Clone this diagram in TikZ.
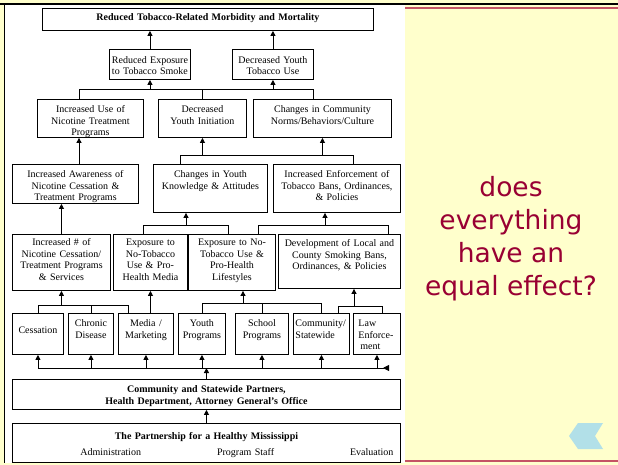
\documentclass[tikz,border=0pt]{standalone}
\usepackage{fontspec}
\setmainfont{Liberation Serif}
\newfontfamily\qsans{DejaVu Sans}
\usetikzlibrary{arrows.meta,positioning,calc}

\definecolor{slideyellow}{RGB}{255,255,204}
\definecolor{rulered}{RGB}{196,84,100}
\definecolor{qred}{RGB}{153,0,51}
\definecolor{chevblue}{RGB}{178,224,232}

\newcommand\cellfont{\fontsize{10}{11.5}\selectfont}

\begin{document}
\begin{tikzpicture}[x=1pt,y=-1pt,
      box/.style = {draw, line width=0.9pt, anchor=north west, inner sep=0pt,
                    align=center, font=\cellfont},
      head/.style = {box, font=\cellfont\bfseries},
      link/.style = {line width=0.9pt},
      up/.style = {link,->},
      >={Triangle[length=5pt,width=5pt]}
      ]
      \useasboundingbox (0,0) rectangle (618,465);
      % slide
      \fill[slideyellow] (0,0) rectangle (618,465);
      \fill[white] (4,4) rectangle (405,463);
      \draw[line width=1.5pt] (0,4) -- (618,4);
      \draw[line width=1.2pt] (4.5,4) -- (4.5,463);
      \draw[rulered, line width=2pt] (405,8.5) -- (618,8.5);
      \draw[rulered, line width=2pt] (405,460.5) -- (618,460.5);
      \fill[chevblue] (569,436) -- (578,423) -- (603,423) -- (595,436)
        -- (603,449) -- (578,449) -- cycle;

      % outcomes
      \node[head, text width=331pt, text height=12.5pt, text depth=9.5pt] (mort) at (42,8)
        {Reduced Tobacco-Related Morbidity and Mortality};
      \node[box, text width=81pt, text height=14pt, text depth=16pt] (expo) at (109,49)
        {Reduced Exposure\\to Tobacco Smoke};
      \node[box, text width=81pt, text height=14pt, text depth=16pt] (ytu) at (232,49)
        {Decreased Youth\\Tobacco Use};

      \node[box, text width=106pt, text height=13.5pt, text depth=24.5pt] (treat) at (37,99)
        {Increased Use of\\Nicotine Treatment\\Programs};
      \node[box, text width=88pt, text height=13.5pt, text depth=24.5pt] (init) at (158,99)
        {Decreased\\Youth Initiation};
      \node[box, text width=138pt, text height=13.5pt, text depth=24.5pt] (norms) at (253,99)
        {Changes in Community\\Norms/Behaviors/Culture};

      \node[box, text width=126pt, text height=13.5pt, text depth=25.5pt] (aware) at (12,164)
        {Increased Awareness of\\Nicotine Cessation \&\\Treatment Programs};
      \node[box, text width=114pt, text height=13.5pt, text depth=34.5pt] (knowl) at (153,164)
        {Changes in Youth\\Knowledge \& Attitudes};
      \node[box, text width=127pt, text height=13.5pt, text depth=34.5pt] (enf) at (273,164)
        {Increased Enforcement of\\Tobacco Bans, Ordinances,\\\& Policies};

      \node[box, text width=98pt, text height=11.5pt, text depth=44.5pt] (progs) at (12,234)
        {Increased \# of\\Nicotine Cessation/\\Treatment Programs\\\& Services};
      \node[box, text width=74pt, text height=11.5pt, text depth=44.5pt] (media) at (113,234)
        {Exposure to\\No-Tobacco\\Use \& Pro-\\Health Media};
      \node[box, text width=87pt, text height=11.5pt, text depth=44.5pt] (life) at (188,234)
        {Exposure to No-\\Tobacco Use \&\\Pro-Health\\Lifestyles};
      \node[box, text width=122pt, text height=12.5pt, text depth=41.5pt] (bans) at (278,234)
        {Development of Local and\\County Smoking Bans,\\Ordinances, \& Policies};

      % components
      \node[box, text width=51pt, text height=20.5pt, text depth=20.5pt] (cess) at (12,313) {Cessation};
      \node[box, text width=45pt, text height=13.5pt, text depth=27.5pt] (chron) at (68,313) {Chronic\\Disease};
      \node[box, text width=55pt, text height=13.5pt, text depth=27.5pt] (mkt) at (118,313) {Media /\\Marketing};
      \node[box, text width=47pt, text height=13.5pt, text depth=27.5pt] (youth) at (178,313) {Youth\\Programs};
      \node[box, text width=53pt, text height=13.5pt, text depth=27.5pt] (school) at (235,313) {School\\Programs};
      \node[box, align=left, inner xsep=2pt, text width=52pt, text height=13.5pt, text depth=27.5pt] (comm) at (293,313)
        {Community/\\Statewide};
      \node[box, align=left, inner xsep=5pt, text width=37pt, text height=13.5pt, text depth=27.5pt] (law) at (353,313)
        {Law\\Enforce-\\\hspace*{2pt}ment};

      \node[head, text width=388pt, text height=13.5pt, text depth=16.5pt] (partners) at (12,379)
        {Community and Statewide Partners,\\Health Department, Attorney General's Office};
      \node[box, text width=388pt, text height=16.5pt, text depth=22.5pt] (hmp) at (12,423)
        {\textbf{The Partnership for a Healthy Mississippi}\\[4pt]
         \hspace*{68pt}Administration\hfill Program Staff\hfill Evaluation\hspace*{7pt}\mbox{}};

      \node[font=\qsans\fontsize{26.5}{33}\selectfont, text=qred, align=center] (quest) at (511,239)
        {does\\everything\\have an\\equal effect?};

      % bus points
      \coordinate (a1) at (79,89);   \coordinate (a2) at (313,89);
      \coordinate (b1) at (180,155); \coordinate (b2) at (353,155);
      \coordinate (c1) at (143,225); \coordinate (c2) at (228,225); \coordinate (c3) at (186,225);
      \coordinate (d1) at (258,225); \coordinate (d2) at (388,225); \coordinate (d3) at (325,225);
      \coordinate (e1) at (128,305);
      \coordinate (f1) at (200,303); \coordinate (f3) at (243,303);
      \coordinate (g1) at (338,306); \coordinate (g2) at (382,306); \coordinate (g3) at (354,306);
      \coordinate (h2) at (389,368);

      % connectors
      \draw[up] (expo.north) -- (expo.north |- mort.south);
      \draw[up] (ytu.north) -- (ytu.north |- mort.south);

      \draw[link] (a1 |- treat.north) -- (a1) -- (a2) -- (a2 |- norms.north);
      \draw[link] (init.north) -- (init.north |- a1);
      \draw[up] (expo.south |- a1) -- (expo.south);
      \draw[up] (ytu.south |- a1) -- (ytu.south);

      \draw[up] (a1 |- aware.north) -- (a1 |- treat.south);
      \draw[link] (b1 |- knowl.north) -- (b1) -- (b2) -- (b2 |- enf.north);
      \draw[up] (init.south |- b1) -- (init.south);
      \draw[up] (norms.south |- b1) -- (norms.south);

      \draw[up] (progs.north) -- (progs.north |- aware.south);
      \draw[link] (c1 |- media.north) -- (c1) -- (c2) -- (c2 |- life.north);
      \draw[up] (c3) -- (c3 |- knowl.south);
      \draw[link] (d1 |- life.north) -- (d1) -- (d2) -- (d2 |- bans.north);
      \draw[up] (d3) -- (d3 |- enf.south);

      \draw[link] (cess.north) |- (e1) -- (e1 |- mkt.north);
      \draw[link] (chron.north) -- (chron.north |- e1);
      \draw[up] (progs.south |- e1) -- (progs.south);
      \draw[up] (media.south |- mkt.north) -- (media.south);
      \draw[link] (youth.north) |- (comm.north |- f1) -- (comm.north);
      \draw[link] (school.north) -- (school.north |- f1);
      \draw[up] (f3) -- (f3 |- life.south);
      \draw[link] (g1 |- comm.north) -- (g1) -- (g2) -- (g2 |- law.north);
      \draw[up] (g3) -- (g3 |- bans.south);

      \draw[link,-{Triangle[reversed,length=6pt,width=6pt]}] (cess.south |- h2) -- (h2);
      \foreach \n in {cess,chron,mkt,youth,school,comm,law}
        \draw[up] (\n.south |- h2) -- (\n.south);
      \draw[up] (partners.north) -- (partners.north |- h2);
      \draw[up] (hmp.north) -- (partners.south);
\end{tikzpicture}
\end{document}
